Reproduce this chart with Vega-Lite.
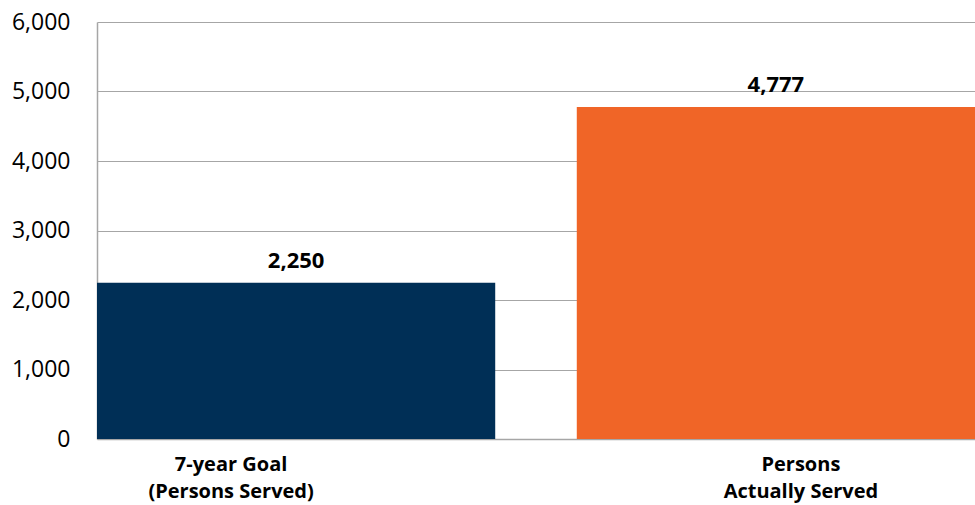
{
  "$schema": "https://vega.github.io/schema/vega-lite/v6.json",
  "autosize": {"type": "none"},
  "padding": {"left": 97, "top": 22, "right": 0, "bottom": 66},
  "width": 878,
  "height": 417,
  "background": "white",
  "config": {"view": {"stroke": null}, "font": "Open Sans"},
  "data": {"values": [
    {"category": "7-year Goal (Persons Served)", "persons": 2250},
    {"category": "Persons Actually Served", "persons": 4777}
  ]},
  "encoding": {
    "x": {
      "field": "category", "type": "nominal", "sort": null,
      "scale": {"paddingInner": 0.17, "paddingOuter": 0},
      "axis": {
        "title": null, "labelAngle": 0, "ticks": false,
        "domainColor": "#A6A6A6", "domainWidth": 1.5,
        "labelFont": "Open Sans", "labelFontWeight": "bold", "labelFontSize": 20,
        "labelColor": "black", "labelBaseline": "top", "labelPadding": 15,
        "labelLineHeight": 27,
        "labelExpr": "datum.value == '7-year Goal (Persons Served)' ? ['7-year Goal', '(Persons Served)'] : ['Persons', 'Actually Served']",
        "labelOffset": {"condition": {"test": "datum.value == '7-year Goal (Persons Served)'", "value": -65}, "value": 25}
      }
    },
    "y": {
      "field": "persons", "type": "quantitative",
      "scale": {"domain": [0, 6000]},
      "axis": {
        "title": null, "values": [0, 1000, 2000, 3000, 4000, 5000, 6000],
        "format": ",.0f", "ticks": false, "labelPadding": 27, "labelOverlap": false,
        "labelFont": "Open Sans", "labelFontSize": 23, "labelColor": "black",
        "domainColor": "#A6A6A6", "domainWidth": 1.5,
        "gridColor": "#A6A6A6", "gridWidth": 1.2
      }
    }
  },
  "layer": [
    {
      "mark": {"type": "bar"},
      "encoding": {
        "color": {
          "field": "category", "type": "nominal", "legend": null,
          "scale": {"domain": ["7-year Goal (Persons Served)", "Persons Actually Served"], "range": ["#002F56", "#F06527"]}
        }
      }
    },
    {
      "mark": {"type": "text", "baseline": "bottom", "dy": -10, "fontWeight": "bold", "fontSize": 22, "color": "black", "font": "Open Sans"},
      "encoding": {"text": {"field": "persons", "type": "quantitative", "format": ","}}
    }
  ]
}
